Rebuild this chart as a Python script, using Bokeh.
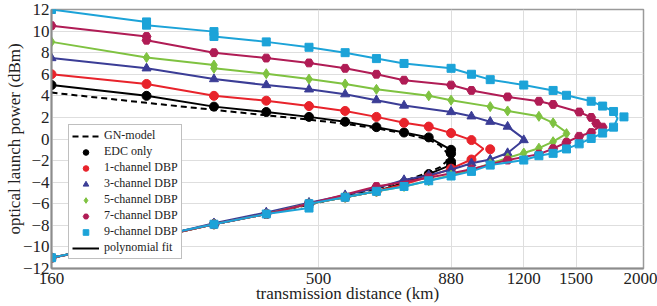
from bokeh.plotting import figure
from bokeh.models import (Range1d, FixedTicker, Legend, LegendItem, BasicTickFormatter)
from bokeh.embed import file_html
from bokeh.resources import INLINE

# ---------------- data ----------------
x_ticks = [160, 500, 880, 1200, 1500, 2000]
y_ticks = [-12, -10, -8, -6, -4, -2, 0, 2, 4, 6, 8, 10, 12]

# GN-model (dashed curve)
gn_d = [160, 240, 320, 400, 480, 560, 640, 720, 800, 840, 862, 868, 862, 840, 800, 720, 640, 480, 320, 160]
gn_p = [4.3, 3.35, 2.7, 2.2, 1.8, 1.4, 1.0, 0.5, -0.05, -0.6, -1.2, -1.6, -2.1, -2.6, -3.1, -3.9, -4.6, -6.1, -7.9, -11.0]

# EDC only
edc_up_d = [160, 240, 320, 400, 480, 560, 640, 720, 800, 880, 880]
edc_up_p = [5.0, 4.0, 3.0, 2.5, 2.05, 1.6, 1.1, 0.6, 0.15, -1.0, -1.35]
edc_nose = (885, -1.7)
edc_lo_d = [880, 880, 800, 720, 640, 560, 480, 400, 320, 240, 160]
edc_lo_p = [-2.1, -2.4, -3.25, -4.05, -4.85, -5.4, -6.0, -6.95, -7.9, -9.3, -11.0]
edc_out_d = []
edc_out_p = []

# 1-channel DBP
ch1_up_d = [160, 240, 320, 400, 480, 560, 640, 720, 800, 880, 960]
ch1_up_p = [6.0, 5.1, 4.0, 3.55, 3.05, 2.6, 2.05, 1.5, 1.15, 0.55, -0.1]
ch1_nose = (1010, -0.9)
ch1_lo_d = [960, 880, 800, 720, 640, 560, 480, 400, 320, 240, 160]
ch1_lo_p = [-1.9, -2.75, -3.5, -4.2, -4.85, -5.4, -6.0, -6.95, -7.9, -9.3, -11.0]
ch1_out_d = [1040]
ch1_out_p = [-0.95]

# 3-channel DBP
ch3_up_d = [160, 240, 320, 400, 480, 560, 640, 720, 880, 960, 1040, 1120]
ch3_up_p = [7.5, 6.55, 5.55, 5.0, 4.6, 4.15, 3.6, 3.1, 2.5, 2.1, 1.6, 1.15]
ch3_nose = (1210, -0.1)
ch3_lo_d = [1200, 1120, 1040, 960, 880, 800, 720, 640, 560, 480, 400, 320, 240, 160]
ch3_lo_p = [-0.1, -1.3, -1.9, -2.25, -2.85, -3.35, -3.8, -4.55, -5.2, -5.9, -6.8, -7.8, -9.3, -11.0]
ch3_out_d = []
ch3_out_p = []

# 5-channel DBP
ch5_up_d = [160, 240, 320, 320, 400, 480, 560, 640, 800, 880, 1040, 1120, 1280, 1360]
ch5_up_p = [9.0, 7.55, 6.85, 6.55, 6.05, 5.55, 5.1, 4.6, 4.0, 3.6, 3.0, 2.6, 2.1, 1.5]
ch5_nose = (1450, 0.5)
ch5_lo_d = [1440, 1360, 1280, 1200, 1120, 1040, 960, 880, 800, 720, 640, 560, 480, 400, 320, 240, 160]
ch5_lo_p = [0.5, -0.25, -0.85, -1.3, -1.75, -2.3, -2.85, -3.35, -3.87, -4.4, -4.85, -5.4, -6.0, -6.95, -7.9, -9.3, -11.0]
ch5_out_d = []
ch5_out_p = []

# 7-channel DBP
ch7_up_d = [160, 240, 240, 320, 400, 480, 560, 640, 720, 880, 960, 1120, 1280, 1360, 1520, 1600, 1635]
ch7_up_p = [10.5, 9.5, 9.15, 8.0, 7.5, 7.05, 6.55, 6.0, 5.45, 5.0, 4.5, 3.9, 3.5, 3.2, 2.5, 2.0, 1.45]
ch7_nose = (1650, 1.1)
ch7_lo_d = [1600, 1520, 1440, 1360, 1280, 1120, 960, 800, 640, 480, 400, 320, 240, 160]
ch7_lo_p = [0.6, 0.25, -0.3, -0.9, -1.4, -1.95, -2.8, -3.6, -4.4, -6.0, -6.95, -7.9, -9.3, -11.0]
ch7_out_d = [1680]
ch7_out_p = [1.1]

# 9-channel DBP
ch9_up_d = [160, 240, 240, 320, 320, 400, 480, 560, 640, 720, 880, 960, 1040, 1200, 1360, 1440, 1600, 1680, 1760]
ch9_up_p = [12.0, 10.85, 10.55, 9.95, 9.5, 9.0, 8.5, 8.0, 7.45, 7.0, 6.55, 6.0, 5.5, 5.0, 4.5, 4.05, 3.5, 3.05, 2.55]
ch9_nose = (1790, 1.9)
ch9_lo_d = [1760, 1680, 1600, 1520, 1440, 1360, 1280, 1200, 1040, 960, 880, 800, 720, 640, 560, 480, 480, 400, 320, 160]
ch9_lo_p = [1.1, 0.55, 0.05, -0.45, -0.92, -1.33, -1.55, -1.95, -2.42, -3.0, -3.43, -3.87, -4.4, -4.85, -5.4, -6.0, -6.4, -6.95, -7.9, -11.0]
ch9_out_d = [1840]
ch9_out_p = [2.05]

# ---------------- figure ----------------
FONT = "'Liberation Serif'"
p = figure(width=657, height=306, x_axis_type="log",
           x_range=Range1d(160, 2000), y_range=Range1d(-12, 12),
           output_backend="svg", toolbar_location=None,
           min_border_left=51, min_border_right=14, min_border_top=9, min_border_bottom=38,
           background_fill_color="white", border_fill_color="white")
p.outline_line_color = "#9a9a9a"
p.outline_line_width = 1.5

p.xaxis.ticker = FixedTicker(ticks=x_ticks, minor_ticks=[])
p.xaxis.formatter = BasicTickFormatter(use_scientific=False)
p.yaxis.ticker = FixedTicker(ticks=y_ticks, minor_ticks=[])
p.yaxis.major_label_overrides = {t: (("\u2212" + str(-t)) if t < 0 else str(t)) for t in y_ticks}

for ax in (p.xaxis[0], p.yaxis[0]):
    ax.major_label_text_font = FONT
    ax.major_label_text_font_size = "17px"
    ax.major_label_text_color = "#222222"
    ax.axis_label_text_font = FONT
    ax.axis_label_text_font_size = "17px"
    ax.axis_label_text_font_style = "normal"
    ax.axis_label_text_color = "#222222"
    ax.major_tick_in = 0
    ax.major_tick_out = 0
    ax.minor_tick_in = 0
    ax.minor_tick_out = 0
    ax.axis_line_color = "#8c8c8c"
    ax.axis_line_width = 2

p.xaxis.axis_label = "transmission distance (km)"
p.yaxis.axis_label = "optical launch power (dBm)"
p.xaxis.major_label_standoff = 4
p.xaxis.axis_label_standoff = -3
p.yaxis.major_label_standoff = 2
p.yaxis.axis_label_standoff = -4

p.grid.grid_line_color = "#dedede"
p.grid.grid_line_width = 1

# GN model
gn_r = p.line(gn_d, gn_p, line_color="black", line_width=2, line_dash="6 4")

series = [
    ("EDC only", "black", "circle", 9, edc_up_d, edc_up_p, edc_nose, edc_lo_d, edc_lo_p, edc_out_d, edc_out_p),
    ("1-channel DBP", "#e8232b", "circle", 9, ch1_up_d, ch1_up_p, ch1_nose, ch1_lo_d, ch1_lo_p, ch1_out_d, ch1_out_p),
    ("3-channel DBP", "#3b3d96", "triangle", 9, ch3_up_d, ch3_up_p, ch3_nose, ch3_lo_d, ch3_lo_p, ch3_out_d, ch3_out_p),
    ("5-channel DBP", "#7fc241", "diamond", 10, ch5_up_d, ch5_up_p, ch5_nose, ch5_lo_d, ch5_lo_p, ch5_out_d, ch5_out_p),
    ("7-channel DBP", "#b01c55", "hex", 9, ch7_up_d, ch7_up_p, ch7_nose, ch7_lo_d, ch7_lo_p, ch7_out_d, ch7_out_p),
    ("9-channel DBP", "#1ca3d8", "square", 8, ch9_up_d, ch9_up_p, ch9_nose, ch9_lo_d, ch9_lo_p, ch9_out_d, ch9_out_p),
]

items = [LegendItem(label="GN-model", renderers=[gn_r])]
fit_renderer = None
for name, col, mk, sz, ud, up, nose, ld, lp, od, op in series:
    line_d = list(ud) + [nose[0]] + list(ld)
    line_p = list(up) + [nose[1]] + list(lp)
    lr = p.line(line_d, line_p, line_color=col, line_width=2)
    if fit_renderer is None:
        fit_renderer = lr
    sr = p.scatter(list(ud) + list(ld) + list(od), list(up) + list(lp) + list(op),
                   marker=mk, size=sz, fill_color=col, line_color=col)
    items.append(LegendItem(label=name, renderers=[sr]))
items.append(LegendItem(label="polynomial fit", renderers=[fit_renderer]))

legend = Legend(items=items, location=(17, 9))
legend.label_text_font = FONT
legend.label_text_font_size = "12px"
legend.label_text_color = "#222222"
legend.label_height = 14
legend.glyph_height = 14
legend.glyph_width = 27
legend.label_standoff = 5
legend.spacing = 1
legend.padding = 3
legend.margin = 0
legend.border_line_color = "#808080"
legend.border_line_width = 1
legend.background_fill_alpha = 1
p.add_layout(legend)

open("out.html", "w").write(file_html(p, INLINE))
